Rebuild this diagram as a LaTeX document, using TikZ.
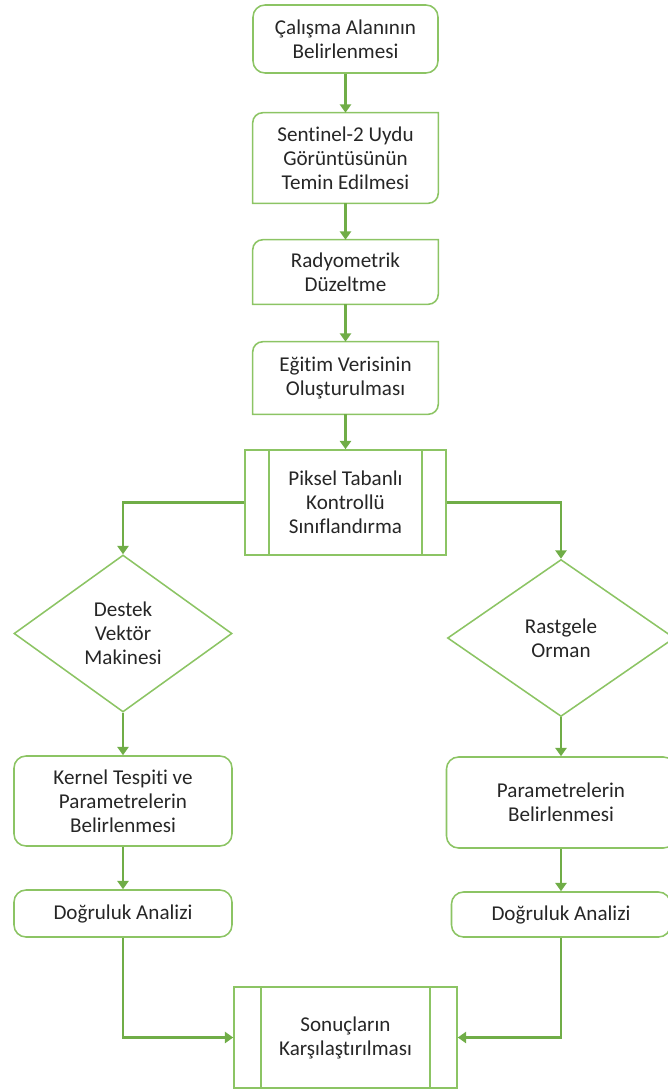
\documentclass[tikz,border=0pt]{standalone}
\usepackage{fontspec}
\setmainfont{Carlito}[Ligatures=NoCommon]
\usetikzlibrary{shapes.geometric,arrows.meta}

\definecolor{boxgreen}{RGB}{140,196,100}
\definecolor{arrowgreen}{RGB}{112,173,71}
\definecolor{textgray}{RGB}{38,38,38}

\tikzstyle{roundbox}   = [rectangle, rounded corners=0.3cm, draw=boxgreen, line width=1.1pt, text=textgray, align=center]
\tikzstyle{cornerbox}  = [rectangle, text=textgray, align=center, minimum width=4.625cm]
\tikzstyle{processbox} = [rectangle, draw=boxgreen, line width=1.1pt, text=textgray, align=center]
\tikzstyle{decision}   = [diamond, draw=boxgreen, line width=1.1pt, text=textgray, align=center, inner sep=0pt]
\tikzstyle{flow}       = [draw=arrowgreen, line width=1.8pt, -{Triangle[width=8pt,length=6pt]}]

% frame with rounded top left and bottom right corners
\newcommand{\cornerframe}[1]{%
  \draw[draw=boxgreen, line width=1.1pt]
    (#1.south west) -- ([yshift=-0.25cm]#1.north west)
    arc[start angle=180, end angle=90, radius=0.25cm]
    -- (#1.north east) -- ([yshift=0.25cm]#1.south east)
    arc[start angle=0, end angle=-90, radius=0.25cm] -- cycle;}

\begin{document}
\begin{tikzpicture}[node distance=2.975cm, font=\fontsize{15}{17}\selectfont]
    \useasboundingbox (-8.6375,0.975) rectangle (8.0375,-26.3);
    % main column
    \node (calisma) [roundbox, minimum width=4.625cm, minimum height=1.7cm]             {Çalışma Alanının\\Belirlenmesi};
    \node (uydu)    [cornerbox, minimum height=2.25cm, below of=calisma]                  {Sentinel-2 Uydu\\Görüntüsünün\\Temin Edilmesi};
    \node (radyo)   [cornerbox, minimum height=1.6cm, below of=uydu, node distance=2.85cm] {Radyometrik\\Düzeltme};
    \node (egitim)  [cornerbox, minimum height=1.8cm, below of=radyo, node distance=2.65cm] {Eğitim Verisinin\\Oluşturulması};
    \node (piksel)  [processbox, minimum width=5.025cm, minimum height=2.625cm, below of=egitim, node distance=3.1125cm] {Piksel Tabanlı\\Kontrollü\\Sınıflandırma};
    % left branch
    \node (destek)  [decision, minimum width=5.45cm, minimum height=3.925cm, below of=piksel, node distance=3.275cm, xshift=-5.5625cm] {Destek\\Vektör\\Makinesi};
    \node (kernel)  [roundbox, minimum width=5.45cm, minimum height=2.25cm, below of=destek, node distance=4.1875cm] {Kernel Tespiti ve\\Parametrelerin\\Belirlenmesi};
    \node (dogrulukL) [roundbox, minimum width=5.45cm, minimum height=1.175cm, below of=kernel, node distance=2.8125cm] {Doğruluk Analizi};
    % right branch
    \node (rastgele) [decision, minimum width=5.675cm, minimum height=3.925cm, below of=piksel, node distance=3.3875cm, xshift=5.3875cm] {Rastgele\\Orman};
    \node (param)   [roundbox, minimum width=5.725cm, minimum height=2.275cm, below of=rastgele, node distance=4.1125cm] {Parametrelerin\\Belirlenmesi};
    \node (dogrulukR) [roundbox, minimum width=5.475cm, minimum height=1.125cm, below of=param, node distance=2.8cm] {Doğruluk Analizi};
    % result
    \node (sonuc)   [processbox, minimum width=5.575cm, minimum height=2.525cm, below of=piksel, node distance=13.375cm] {Sonuçların\\Karşılaştırılması};

    \cornerframe{uydu}
    \cornerframe{radyo}
    \cornerframe{egitim}
    \draw[draw=boxgreen, line width=1.1pt] ([xshift=0.625cm]piksel.north west) -- ([xshift=0.625cm]piksel.south west);
    \draw[draw=boxgreen, line width=1.1pt] ([xshift=-0.625cm]piksel.north east) -- ([xshift=-0.625cm]piksel.south east);
    \draw[draw=boxgreen, line width=1.1pt] ([xshift=0.7cm]sonuc.north west) -- ([xshift=0.7cm]sonuc.south west);
    \draw[draw=boxgreen, line width=1.1pt] ([xshift=-0.7cm]sonuc.north east) -- ([xshift=-0.7cm]sonuc.south east);

    \draw[flow] (calisma)   -- (uydu);
    \draw[flow] (uydu)      -- (radyo);
    \draw[flow] (radyo)     -- (egitim);
    \draw[flow] (egitim)    -- (piksel);
    \draw[flow] (piksel)    -| (destek);
    \draw[flow] (piksel)    -| (rastgele);
    \draw[flow] (destek)    -- (kernel);
    \draw[flow] (kernel)    -- (dogrulukL);
    \draw[flow] (rastgele)  -- (param);
    \draw[flow] (param)     -- (dogrulukR);
    \draw[flow] (dogrulukL) |- (sonuc);
    \draw[flow] (dogrulukR) |- (sonuc);
\end{tikzpicture}
\end{document}
